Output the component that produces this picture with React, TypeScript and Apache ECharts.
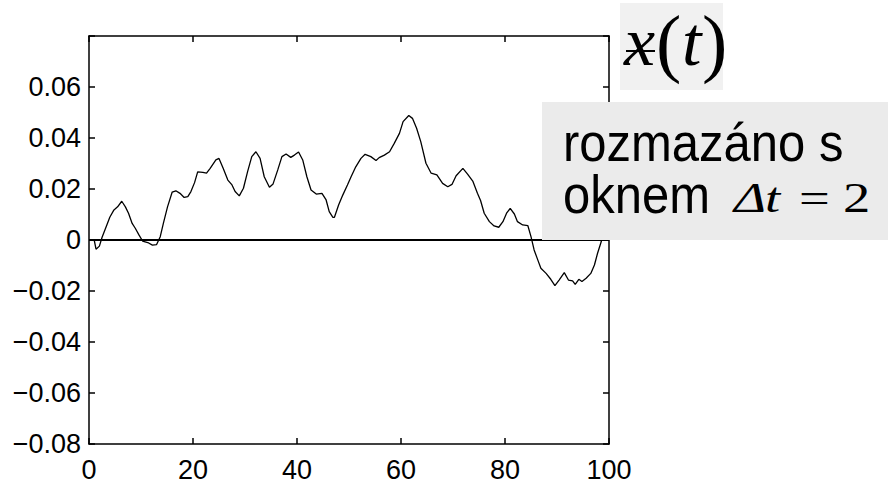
import React, { useEffect, useRef } from "react";
import * as echarts from "echarts";

const tValues = [
  1.0, 1.35, 2.0, 2.5, 3.3, 4.0, 4.8, 5.5, 6.3, 7.0, 7.6, 8.3, 8.9, 9.6, 10.3, 11.3, 12.2, 13.0, 13.7, 14.3,
  15.1, 16.0, 16.7, 17.5, 18.3, 19.0, 19.6, 20.3, 20.9, 21.9, 22.6, 23.3, 24.4, 25.0, 25.8, 26.7, 27.5, 28.1,
  28.9, 29.7, 30.5, 31.3, 32.1, 32.9, 33.7, 34.7, 35.4, 36.3, 37.1, 37.9, 38.8, 39.5, 40.3, 41.1, 41.9, 42.7,
  43.7, 44.8, 45.6, 46.2, 46.9, 47.2, 48.0, 48.8, 49.7, 50.4, 51.3, 52.3, 53.1, 54.2, 55.2, 55.8, 56.8, 57.8,
  58.7, 59.7, 60.4, 61.5, 62.2, 63.0, 63.8, 64.8, 65.8, 66.9, 68.0, 69.0, 69.8, 70.6, 71.9, 72.8, 73.8, 74.7,
  75.3, 76.0, 77.0, 77.9, 78.8, 79.6, 80.3, 81.0, 81.8, 82.4, 83.4, 84.4, 85.0, 85.6, 86.3, 86.9, 87.9, 88.8,
  89.6, 90.4, 91.4, 92.2, 93.0, 93.5, 94.2, 94.8, 95.6, 96.5, 97.2, 97.8, 98.5, 98.8, 99.5,
];

const xValues = [
  0.0, -0.0036, -0.0024, 0.001, 0.0052, 0.0089, 0.0118, 0.013, 0.0152, 0.013, 0.0105, 0.0065, 0.0046, 0.002,
  -0.0004, -0.001, -0.002, -0.0018, 0.0013, 0.0065, 0.013, 0.0188, 0.0193, 0.0183, 0.0167, 0.017, 0.019,
  0.0225, 0.0267, 0.0265, 0.0262, 0.0281, 0.0314, 0.032, 0.0281, 0.0235, 0.0216, 0.019, 0.0173, 0.0203,
  0.0268, 0.0327, 0.0346, 0.032, 0.0248, 0.0207, 0.022, 0.0275, 0.0327, 0.0337, 0.0324, 0.0333, 0.0345,
  0.0314, 0.0248, 0.0196, 0.018, 0.0183, 0.0157, 0.0111, 0.0089, 0.0089, 0.0137, 0.0176, 0.0216, 0.0248,
  0.0287, 0.032, 0.0336, 0.0327, 0.0312, 0.0323, 0.0333, 0.0346, 0.0379, 0.0418, 0.0464, 0.0488, 0.0477,
  0.0438, 0.0386, 0.0301, 0.0262, 0.0255, 0.0222, 0.0209, 0.0218, 0.0252, 0.0281, 0.0258, 0.0231, 0.0183,
  0.0155, 0.0105, 0.0072, 0.0055, 0.005, 0.0072, 0.0105, 0.0124, 0.0102, 0.0072, 0.0059, 0.0056, 0.0013,
  -0.0039, -0.0078, -0.0111, -0.0131, -0.0154, -0.0179, -0.0157, -0.0128, -0.0157, -0.016, -0.0174, -0.0154,
  -0.0163, -0.015, -0.0131, -0.0098, -0.0052, -0.0007, 0.002, 0.008,
];

const zeroLine = [
  [0, 0],
  [100, 0],
];

const xTicks = [0, 20, 40, 60, 80, 100];
const yTicks = [-0.08, -0.06, -0.04, -0.02, 0, 0.02, 0.04, 0.06, 0.08];

const labelLine1 = "rozmazáno s";
const labelLine2 = "oknem";

const SANS = "'Liberation Sans', Arial, Helvetica, sans-serif";
const SERIF = "'Liberation Serif', 'Times New Roman', serif";

function fmtY(v: number): string {
  if (Math.abs(v - yTicks[yTicks.length - 1]) < 1e-9) return "";
  if (Math.abs(v) < 1e-9) return "0";
  return v.toFixed(2).replace("-", "\u2212");
}

export default function App() {
  const ref = useRef<HTMLDivElement>(null);
  useEffect(() => {
    if (!ref.current) return;
    const chart = echarts.init(ref.current, undefined, { renderer: "svg" });
    const data = tValues.map((t, i) => [t, xValues[i]]);
    const axisCommon = {
      type: "value" as const,
      axisLine: { show: true, onZero: false, lineStyle: { color: "#000", width: 1.5 } },
      axisTick: { show: true, inside: true, length: 6, lineStyle: { color: "#000", width: 1.5 } },
      splitLine: { show: false },
    };
    const mathText = (text: string, x: number, italic: boolean) => ({
      type: "text",
      x,
      y: 198,
      scaleX: 1.3,
      style: {
        text,
        font: `${italic ? "italic " : ""}42px ${SERIF}`,
        fill: "#000",
        textVerticalAlign: "middle",
      },
      z: 11,
    });
    chart.setOption({
      animation: false,
      backgroundColor: "#fff",
      grid: { left: 89, top: 36, width: 520, height: 408, containLabel: false },
      xAxis: [
        {
          ...axisCommon,
          position: "bottom",
          min: xTicks[0],
          max: xTicks[xTicks.length - 1],
          interval: 20,
          axisLabel: { show: true, color: "#000", fontSize: 27, fontFamily: SANS, margin: 12 },
        },
        {
          ...axisCommon,
          position: "top",
          min: xTicks[0],
          max: xTicks[xTicks.length - 1],
          interval: 20,
          axisLabel: { show: false },
        },
      ],
      yAxis: [
        {
          ...axisCommon,
          position: "left",
          min: yTicks[0],
          max: yTicks[yTicks.length - 1],
          interval: 0.02,
          axisLabel: { show: true, color: "#000", fontSize: 27, fontFamily: SANS, margin: 8, formatter: fmtY },
        },
        {
          ...axisCommon,
          position: "right",
          min: yTicks[0],
          max: yTicks[yTicks.length - 1],
          interval: 0.02,
          axisLabel: { show: false },
        },
      ],
      series: [
        {
          type: "line",
          data: zeroLine,
          showSymbol: false,
          symbol: "none",
          lineStyle: { color: "#000", width: 2 },
          z: 2,
        },
        {
          type: "line",
          data,
          showSymbol: false,
          symbol: "none",
          lineStyle: { color: "#000", width: 1.3 },
          z: 3,
        },
      ],
      graphic: [
        { type: "rect", shape: { x: 620, y: 3, width: 103, height: 87 }, style: { fill: "#f1f1f1" }, z: 10 },
        {
          type: "text",
          x: 624,
          y: 41,
          style: { text: "x", font: `italic 70px ${SERIF}`, fill: "#000", textVerticalAlign: "middle" },
          z: 11,
        },
        { type: "line", shape: { x1: 626, y1: 51, x2: 655, y2: 51 }, style: { stroke: "#000", lineWidth: 2 }, z: 11 },
        {
          type: "text",
          x: 656,
          y: 42,
          style: { text: "(", font: `76px ${SERIF}`, fill: "#000", textVerticalAlign: "middle" },
          z: 11,
        },
        {
          type: "text",
          x: 682,
          y: 41,
          style: { text: "t", font: `italic 70px ${SERIF}`, fill: "#000", textVerticalAlign: "middle" },
          z: 11,
        },
        {
          type: "text",
          x: 702,
          y: 42,
          style: { text: ")", font: `76px ${SERIF}`, fill: "#000", textVerticalAlign: "middle" },
          z: 11,
        },
        { type: "rect", shape: { x: 542, y: 102, width: 346, height: 138 }, style: { fill: "#ebebeb" }, z: 10 },
        {
          type: "text",
          x: 563,
          y: 143,
          scaleY: 1.08,
          style: { text: labelLine1, font: `49px ${SANS}`, fill: "#000", textVerticalAlign: "middle" },
          z: 11,
        },
        {
          type: "text",
          x: 563,
          y: 195,
          scaleY: 1.08,
          style: { text: labelLine2, font: `49px ${SANS}`, fill: "#000", textVerticalAlign: "middle" },
          z: 11,
        },
        mathText("\u0394", 734, true),
        mathText("t", 765, true),
        mathText("=", 799, false),
        mathText("2", 843, false),
      ],
    });
    return () => chart.dispose();
  }, []);
  return <div ref={ref} style={{ position: "fixed", left: 0, top: 0, width: 888, height: 493 }} />;
}
